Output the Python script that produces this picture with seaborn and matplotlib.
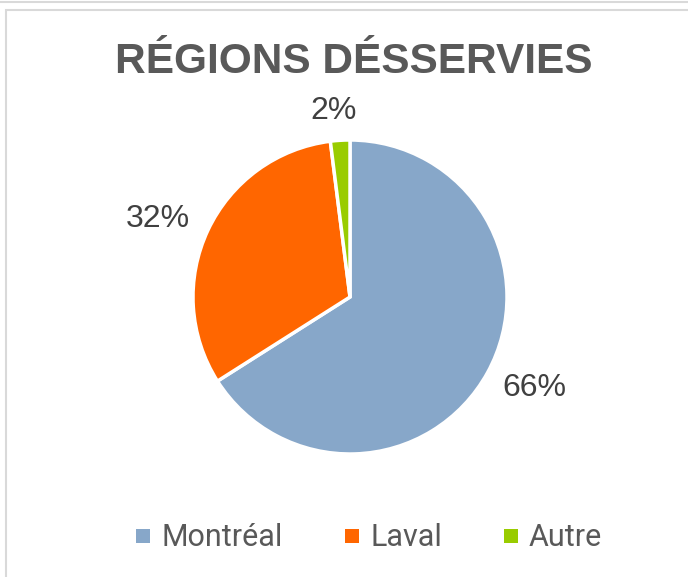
import numpy as np
import matplotlib.pyplot as plt
import seaborn as sns
from matplotlib.lines import Line2D
from matplotlib.patches import Rectangle

sns.set_theme(style="white")

regions = ["Montréal", "Laval", "Autre"]
shares = [66, 32, 2]
colors = ["#87A7C9", "#FF6600", "#99CC00"]
title = "RÉGIONS DÉSSERVIES"

W, H = 688, 577
fig = plt.figure(figsize=(W / 100, H / 100), dpi=100)
fig.patch.set_facecolor("white")

# borders like the Excel chart frame
fig.add_artist(Line2D([0, 1], [1 - 1.5 / H, 1 - 1.5 / H], color="#D9D9D9", lw=1.5))
fig.add_artist(Rectangle((6 / W, -0.1), 1.1, 1.1 - 9.5 / H,
                         transform=fig.transFigure, fill=False,
                         edgecolor="#D9D9D9", lw=1.5))

cx, cy, r = 350, 297, 157
ax = fig.add_axes([(cx - r) / W, (H - cy - r) / H, 2 * r / W, 2 * r / H])
wedges, _ = ax.pie(
    shares, colors=colors, startangle=90, counterclock=False,
    wedgeprops=dict(edgecolor="white", linewidth=2.5),
)
# Excel "best fit" labels: distance from centre and angle nudge per slice
label_dist = [1.31, 1.32, 1.19]
label_shift = [2.5, 3.0, 1.5]
for w, v, d, s in zip(wedges, shares, label_dist, label_shift):
    ang = np.deg2rad((w.theta1 + w.theta2) / 2 + s)
    ax.text(d * np.cos(ang), d * np.sin(ang), f"{v}%", ha="center", va="center",
            fontsize=23, color="#404040", family=["Liberation Sans", "DejaVu Sans"])
ax.set_xlim(-1, 1)
ax.set_ylim(-1, 1)
ax.set_aspect("equal")
ax.axis("off")

fig.text(354 / W, 1 - 73 / H, title, ha="center", va="baseline",
         fontsize=30.5, fontweight="bold", color="#595959",
         family=["Liberation Sans", "DejaVu Sans"])

handles = [Line2D([], [], marker="s", linestyle="", markersize=10,
                  markerfacecolor=c, markeredgewidth=0) for c in colors]
fig.legend(handles, regions, loc="center", bbox_to_anchor=(369 / W, 1 - 538 / H),
           ncol=3, frameon=False, handlelength=0.5, handletextpad=0.35,
           columnspacing=2.0, prop=dict(family=["Roboto", "DejaVu Sans"], size=22),
           labelcolor="#595959")

fig.savefig("out.png", dpi=100)
